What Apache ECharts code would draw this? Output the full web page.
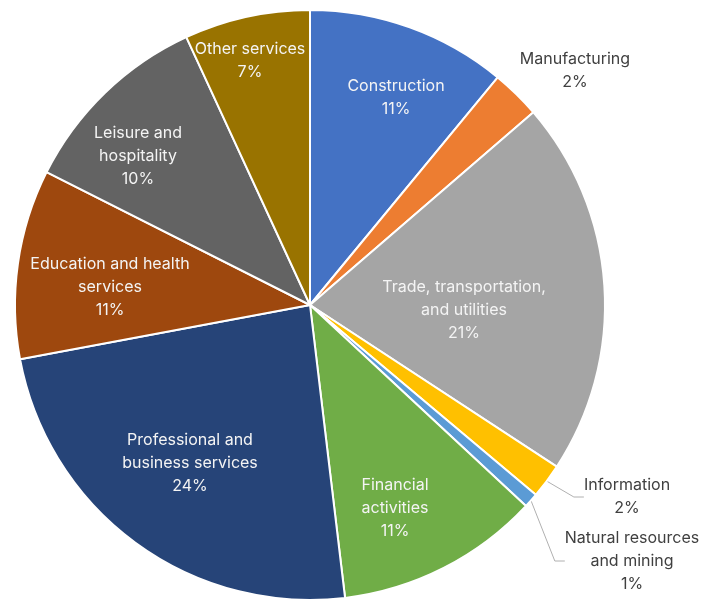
<!DOCTYPE html>
<html>
<head>
<meta charset="utf-8">
<script src="https://cdn.jsdelivr.net/npm/echarts@6/dist/echarts.min.js"></script>
<style>html,body{margin:0;padding:0;background:#fff}#c{width:704px;height:602px}</style>
</head>
<body>
<div id="c"></div>
<script>
// Data
const categories = [
  'Construction', 'Manufacturing', 'Trade, transportation,\nand utilities', 'Information',
  'Natural resources\nand mining', 'Financial\nactivities', 'Professional and\nbusiness services',
  'Education and health\nservices', 'Leisure and\nhospitality', 'Other services'
];
const shares = [11, 2.7, 20.6, 1.9, 0.8, 11.2, 24, 10.4, 10.7, 6.9];
const pctLabels = ['11%', '2%', '21%', '2%', '1%', '11%', '24%', '11%', '10%', '7%'];

// Styles / layout
const colors = ['#4472C4', '#ED7D31', '#A5A5A5', '#FFC000', '#5B9BD5', '#70AD47', '#264478', '#9E480E', '#636363', '#997300'];
const outside = [false, true, false, true, true, false, false, false, false, false];
const showLine = [false, false, false, true, true, false, false, false, false, false];
const labelPos = [[396,98],[575,71],[464,310],[627,497],[632,561],[395,508],[190,463],[110,287],[138,156],[250,61]];

const data = categories.map((name, i) => ({
  name: name,
  value: shares[i],
  itemStyle: { color: colors[i] },
  label: {
    position: outside[i] ? 'outside' : 'inside',
    color: outside[i] ? '#404040' : '#f4f4f4'
  },
  labelLine: { show: showLine[i], lineStyle: { color: '#b0b0b0', width: 1 }, length: 15, length2: 10 }
}));

const chart = echarts.init(document.getElementById('c'), null, { renderer: 'canvas' });
chart.setOption({
  animation: false,
  series: [{
    type: 'pie',
    center: [310, 305],
    radius: [0, 295],
    startAngle: 90,
    clockwise: true,
    avoidLabelOverlap: false,
    itemStyle: { borderColor: '#ffffff', borderWidth: 2 },
    label: {
      show: true,
      fontFamily: 'Inter',
      fontSize: 16,
      lineHeight: 23,
      align: 'center',
      formatter: p => p.name + '\n' + pctLabels[p.dataIndex]
    },
    labelLayout: function (params) {
      const p = labelPos[params.dataIndex];
      return { x: p[0], y: p[1], align: 'center', verticalAlign: 'middle' };
    },
    data: data
  }]
});
</script>
</body>
</html>
